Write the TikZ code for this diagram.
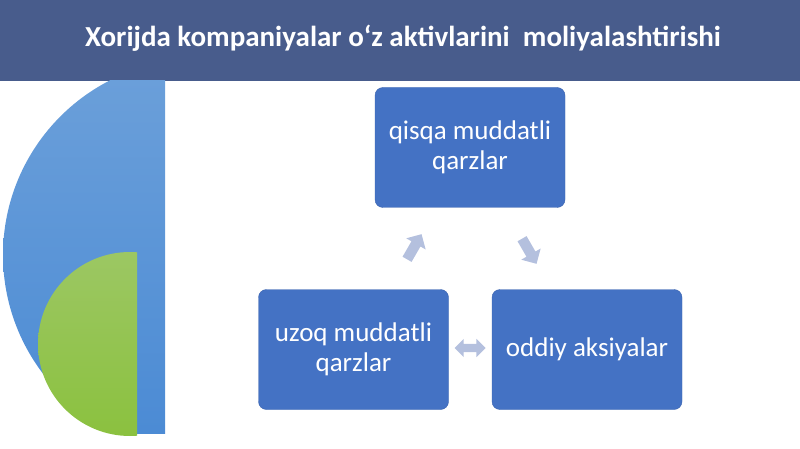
\documentclass[tikz,border=0pt]{standalone}
\usepackage{fontspec}
\setmainfont{Carlito}
\usetikzlibrary{shapes.arrows}

\definecolor{bandblue}{RGB}{72,92,140}
\definecolor{boxblue}{RGB}{68,114,196}
\definecolor{boxedge}{RGB}{60,100,175}
\definecolor{arrowgray}{RGB}{180,192,222}

\begin{document}
\begin{tikzpicture}[x=1pt,y=-1pt,
    box/.style={draw=boxedge, fill=boxblue, rounded corners=8pt, minimum width=190pt,
      minimum height=120pt, text=white, align=center, font=\fontsize{27}{30}\selectfont},
    cyc/.style={fill=arrowgray, single arrow, inner sep=5pt, single arrow head extend=6pt,
      minimum height=29pt},
    both/.style={fill=arrowgray, double arrow, inner sep=4pt, double arrow head extend=5pt,
      minimum height=31pt}]
  \useasboundingbox (0,0) rectangle (800,449);

  % title band
  \fill[bandblue] (0,0) rectangle (800,81);
  \node[name=title, text=white, font=\bfseries\fontsize{29}{32}\selectfont] at (403,38)
    {Xorijda kompaniyalar o‘z aktivlarini\ \ moliyalashtirishi};

  % left half discs
  \begin{scope}
    \clip (0,81) rectangle (165,433);
    \shade[top color={rgb,255:red,108;green,160;blue,218}, bottom color={rgb,255:red,74;green,138;blue,212}]
      (199,255) circle (196);
  \end{scope}
  \begin{scope}
    \clip (0,240) rectangle (137,449);
    \shade[top color={rgb,255:red,156;green,199;blue,99}, bottom color={rgb,255:red,139;green,193;blue,63}]
      (130,344) circle (92);
  \end{scope}

  % boxes
  \node[name=q, box] at (470,147.5) {qisqa muddatli\\qarzlar};
  \node[name=u, box] at (353.5,349.5) {uzoq muddatli\\qarzlar};
  \node[name=o, box] at (587,349.5) {oddiy aksiyalar};

  % cycle arrows
  \node[name=a1, cyc, rotate=60] at (413,249) {};
  \node[name=a2, cyc, rotate=-60] at (528,249) {};
  \node[name=a3, both] at (470,348) {};

\end{tikzpicture}
\end{document}
